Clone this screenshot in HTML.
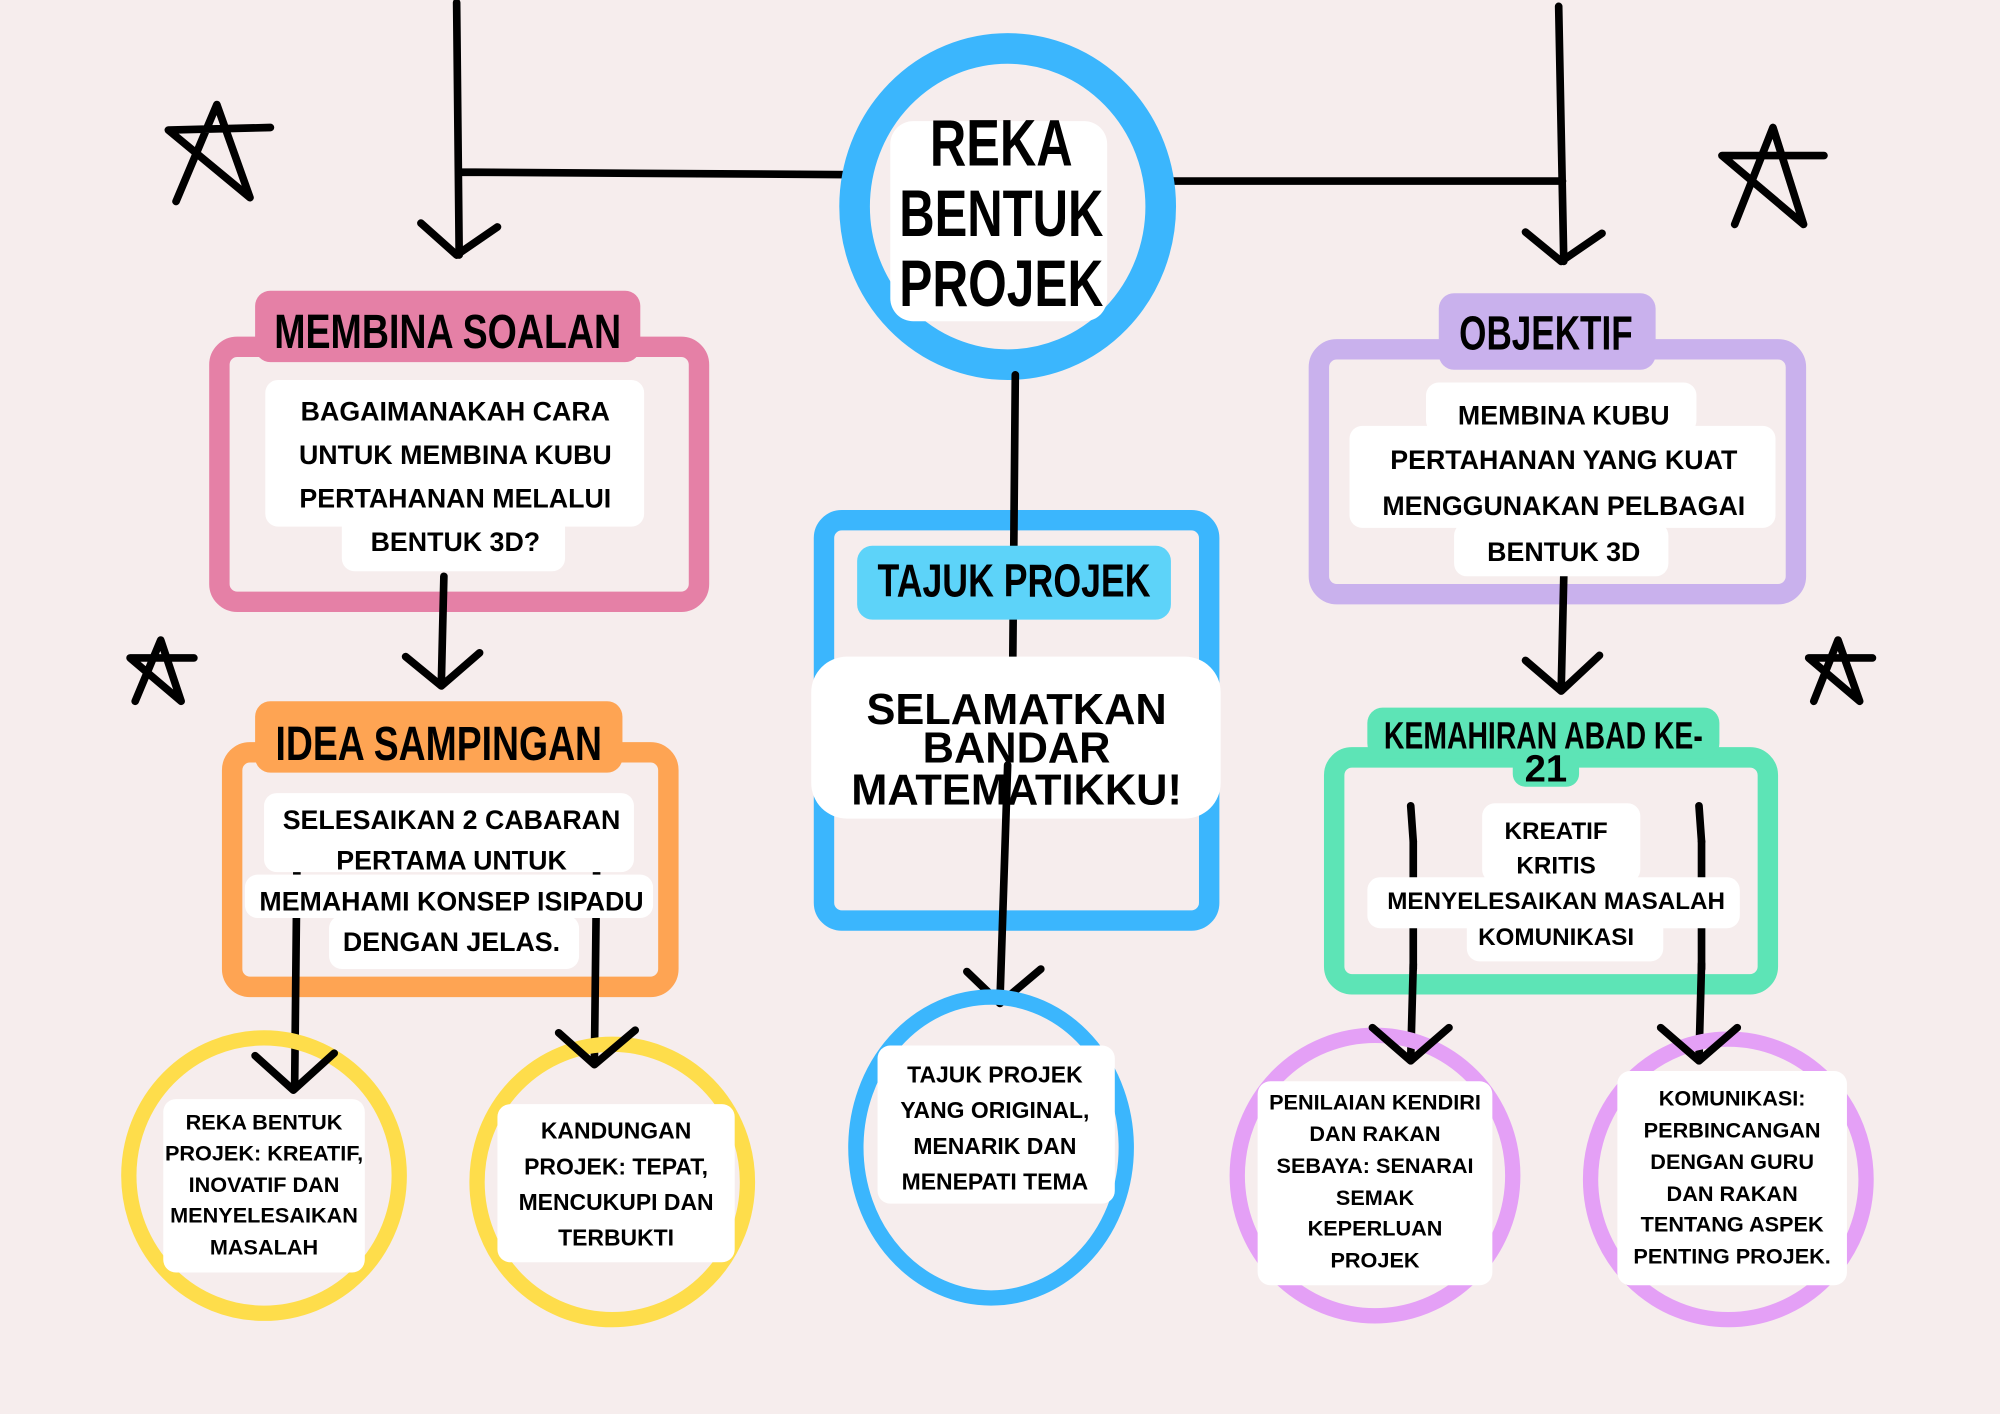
<!DOCTYPE html>
<html><head><meta charset="utf-8"><style>
html,body{margin:0;padding:0;background:#f6eded;}
svg{display:block;}
.t{font-family:"Liberation Sans",sans-serif;font-weight:bold;fill:#000;text-anchor:middle;}
.h{font-family:"Liberation Sans",sans-serif;font-weight:bold;fill:#000;text-anchor:middle;}
.ln{stroke:#000;stroke-width:6;fill:none;stroke-linecap:round;stroke-linejoin:round;}
</style></head><body>
<svg width="2000" height="1414" viewBox="0 0 1568 1109" preserveAspectRatio="none" xmlns="http://www.w3.org/2000/svg">
<rect width="1568" height="1109" fill="#f6eded"/>

<!-- connectors top -->
<path class="ln" d="M358 2 L360 200 M360 135 L668 137 M918 142 L1225 142 M1222 5 L1226 205"/>
<path class="ln" d="M330 175 L358 200 L390 178"/>
<path class="ln" d="M1196 182 L1224 205 L1256 183"/>

<!-- stars -->
<g class="ln" stroke-width="5">
<path d="M138 158 L170 82 L196 155 L132 102 L212 100"/>
<path d="M1360 176 L1390 100 L1414 176 L1350 122 L1430 122"/>
<path d="M106 550 L126 502 L142 550 L102 516 L152 516"/>
<path d="M1422 550 L1441 502 L1458 550 L1418 516 L1468 516"/>
</g>

<!-- center circle -->
<ellipse cx="790" cy="162" rx="120" ry="124" fill="none" stroke="#3bb6fd" stroke-width="24"/>
<rect x="698" y="95" width="170" height="157" rx="18" fill="#fff"/>
<text class="h" x="785" y="130" font-size="52" textLength="112" lengthAdjust="spacingAndGlyphs">REKA</text>
<text class="h" x="785" y="185" font-size="52" textLength="160" lengthAdjust="spacingAndGlyphs">BENTUK</text>
<text class="h" x="785" y="240" font-size="52" textLength="160" lengthAdjust="spacingAndGlyphs">PROJEK</text>

<!-- pink box -->
<rect x="172" y="272" width="376" height="200" rx="14" fill="none" stroke="#e580a6" stroke-width="16"/>
<rect x="200" y="228" width="302" height="56" rx="12" fill="#e580a6"/>
<text class="h" x="351" y="273" font-size="38" textLength="272" lengthAdjust="spacingAndGlyphs">MEMBINA SOALAN</text>
<rect x="208" y="298" width="297" height="115" rx="10" fill="#fff"/>
<rect x="268" y="400" width="175" height="48" rx="10" fill="#fff"/>
<g class="t" font-size="21">
<text x="357" y="330">BAGAIMANAKAH CARA</text>
<text x="357" y="364">UNTUK MEMBINA KUBU</text>
<text x="357" y="398">PERTAHANAN MELALUI</text>
<text x="357" y="432">BENTUK 3D?</text>
</g>
<path class="ln" d="M348 452 L346 536 M318 515 L346 538 L376 512"/>

<!-- orange box -->
<rect x="182" y="590" width="342" height="184" rx="14" fill="none" stroke="#fea453" stroke-width="16"/>
<rect x="200" y="550" width="288" height="56" rx="12" fill="#fea453"/>
<text class="h" x="344" y="596" font-size="38" textLength="256" lengthAdjust="spacingAndGlyphs">IDEA SAMPINGAN</text>
<path class="ln" d="M233 660 L231 852 M468 660 L466 832"/>
<rect x="207" y="622" width="290" height="62" rx="10" fill="#fff"/>
<rect x="192" y="686" width="320" height="34" rx="10" fill="#fff"/>
<rect x="258" y="718" width="196" height="42" rx="10" fill="#fff"/>
<g class="t" font-size="21">
<text x="354" y="650">SELESAIKAN 2 CABARAN</text>
<text x="354" y="682">PERTAMA UNTUK</text>
<text x="354" y="714">MEMAHAMI KONSEP ISIPADU</text>
<text x="354" y="746">DENGAN JELAS.</text>
</g>

<!-- yellow circles -->
<ellipse cx="207" cy="922" rx="106" ry="108" fill="none" stroke="#fedd4b" stroke-width="12"/>
<ellipse cx="480" cy="927" rx="106" ry="108" fill="none" stroke="#fedd4b" stroke-width="12"/>
<path class="ln" d="M200 828 L230 855 L262 826 M438 810 L466 835 L498 808"/>
<rect x="128" y="862" width="158" height="136" rx="10" fill="#fff"/>
<g class="t" font-size="17">
<text x="207" y="886">REKA BENTUK</text>
<text x="207" y="910">PROJEK: KREATIF,</text>
<text x="207" y="935">INOVATIF DAN</text>
<text x="207" y="959">MENYELESAIKAN</text>
<text x="207" y="984">MASALAH</text>
</g>
<rect x="390" y="866" width="186" height="124" rx="10" fill="#fff"/>
<g class="t" font-size="18">
<text x="483" y="893">KANDUNGAN</text>
<text x="483" y="921">PROJEK: TEPAT,</text>
<text x="483" y="949">MENCUKUPI DAN</text>
<text x="483" y="977">TERBUKTI</text>
</g>

<!-- blue tajuk box -->
<rect x="646" y="408" width="302" height="314" rx="14" fill="none" stroke="#3bb6fd" stroke-width="16"/>
<path class="ln" d="M796 294 L794 520"/>
<rect x="672" y="428" width="246" height="58" rx="12" fill="#5dd3f9"/>
<text class="h" x="795" y="468" font-size="36" textLength="214" lengthAdjust="spacingAndGlyphs">TAJUK PROJEK</text>
<rect x="636" y="515" width="321" height="127" rx="28" fill="#fff"/>
<g class="t" font-size="34">
<text x="797" y="568">SELAMATKAN</text>
<text x="797" y="598">BANDAR</text>
<text x="797" y="631">MATEMATIKKU!</text>
</g>
<path class="ln" d="M790 600 L784 784 M758 762 L784 787 L816 760"/>

<!-- blue bottom circle -->
<ellipse cx="777" cy="900" rx="106" ry="118" fill="none" stroke="#3bb6fd" stroke-width="12"/>
<rect x="688" y="820" width="186" height="124" rx="10" fill="#fff"/>
<g class="t" font-size="18">
<text x="780" y="849">TAJUK PROJEK</text>
<text x="780" y="877">YANG ORIGINAL,</text>
<text x="780" y="905">MENARIK DAN</text>
<text x="780" y="933">MENEPATI TEMA</text>
</g>

<!-- purple box -->
<rect x="1034" y="274" width="374" height="192" rx="14" fill="none" stroke="#c9b1ed" stroke-width="16"/>
<rect x="1128" y="230" width="170" height="60" rx="12" fill="#c9b1ed"/>
<text class="h" x="1212" y="274" font-size="38" textLength="136" lengthAdjust="spacingAndGlyphs">OBJEKTIF</text>
<path class="ln" d="M1226 452 L1224 540 M1196 518 L1224 542 L1254 514"/>
<rect x="1118" y="300" width="212" height="40" rx="10" fill="#fff"/>
<rect x="1058" y="334" width="334" height="80" rx="10" fill="#fff"/>
<rect x="1140" y="410" width="168" height="42" rx="10" fill="#fff"/>
<g class="t" font-size="21">
<text x="1226" y="333">MEMBINA KUBU</text>
<text x="1226" y="368">PERTAHANAN YANG KUAT</text>
<text x="1226" y="404">MENGGUNAKAN PELBAGAI</text>
<text x="1226" y="440">BENTUK 3D</text>
</g>

<!-- green box -->
<rect x="1046" y="594" width="340" height="178" rx="14" fill="none" stroke="#5de4b6" stroke-width="16"/>
<rect x="1072" y="555" width="276" height="40" rx="12" fill="#5de4b6"/>
<rect x="1186" y="585" width="52" height="32" rx="10" fill="#5de4b6"/>
<text class="h" x="1210" y="587" font-size="30" textLength="250" lengthAdjust="spacingAndGlyphs">KEMAHIRAN ABAD KE-</text>
<text class="h" x="1212" y="613" font-size="30">21</text>
<path class="ln" d="M1106 632 L1108 660 M1332 632 L1334 660 M1108 756 L1106 830 M1334 756 L1332 830"/>
<path class="ln" d="M1108 660 L1108 760 M1334 660 L1334 760"/>
<rect x="1162" y="630" width="124" height="62" rx="10" fill="#fff"/>
<rect x="1072" y="688" width="292" height="40" rx="10" fill="#fff"/>
<rect x="1150" y="718" width="154" height="36" rx="10" fill="#fff"/>
<g class="t" font-size="19">
<text x="1220" y="658">KREATIF</text>
<text x="1220" y="685">KRITIS</text>
<text x="1220" y="713">MENYELESAIKAN MASALAH</text>
<text x="1220" y="741">KOMUNIKASI</text>
</g>

<!-- purple circles -->
<ellipse cx="1078" cy="922" rx="108" ry="110" fill="none" stroke="#e4a0f6" stroke-width="12"/>
<ellipse cx="1355" cy="925" rx="108" ry="110" fill="none" stroke="#e4a0f6" stroke-width="12"/>
<path class="ln" d="M1076 806 L1106 832 L1136 806 M1302 806 L1332 832 L1362 806"/>
<rect x="986" y="848" width="184" height="160" rx="10" fill="#fff"/>
<g class="t" font-size="17">
<text x="1078" y="870">PENILAIAN KENDIRI</text>
<text x="1078" y="895">DAN RAKAN</text>
<text x="1078" y="920">SEBAYA: SENARAI</text>
<text x="1078" y="945">SEMAK</text>
<text x="1078" y="969">KEPERLUAN</text>
<text x="1078" y="994">PROJEK</text>
</g>
<rect x="1268" y="840" width="180" height="168" rx="10" fill="#fff"/>
<g class="t" font-size="17">
<text x="1358" y="867">KOMUNIKASI:</text>
<text x="1358" y="892">PERBINCANGAN</text>
<text x="1358" y="917">DENGAN GURU</text>
<text x="1358" y="942">DAN RAKAN</text>
<text x="1358" y="966">TENTANG ASPEK</text>
<text x="1358" y="991">PENTING PROJEK.</text>
</g>
</svg>
</body></html>
